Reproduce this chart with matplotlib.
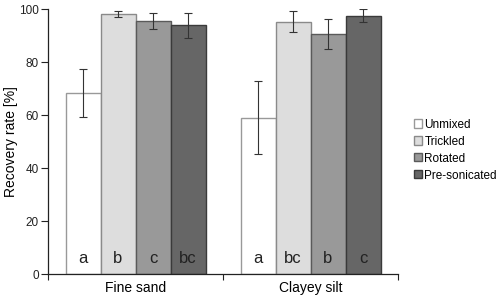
import matplotlib
matplotlib.use("Agg")
import matplotlib.pyplot as plt
import numpy as np

plt.rcParams['font.family'] = ['Liberation Sans', 'DejaVu Sans']

groups = ["Fine sand", "Clayey silt"]
series = ["Unmixed", "Trickled", "Rotated", "Pre-sonicated"]
values = {
    "Unmixed": [68.3, 59.0],
    "Trickled": [98.3, 95.3],
    "Rotated": [95.5, 90.5],
    "Pre-sonicated": [94.0, 97.6],
}
errors = {
    "Unmixed": [9.0, 13.7],
    "Trickled": [1.1, 4.0],
    "Rotated": [2.9, 5.7],
    "Pre-sonicated": [4.7, 2.3],
}
letters = {
    "Unmixed": ["a", "a"],
    "Trickled": ["b", "bc"],
    "Rotated": ["c", "b"],
    "Pre-sonicated": ["bc", "c"],
}
colors = ["#ffffff", "#dddddd", "#999999", "#666666"]
edges = ["#999999", "#8a8a8a", "#5a5a5a", "#3a3a3a"]

fig = plt.figure(figsize=(5.0, 3.03), dpi=100)
ax = fig.add_axes([0.096, 0.0957, 0.70, 0.874])

x = np.arange(len(groups))
w = 0.2
for i, s in enumerate(series):
    pos = x + (i - 1.5) * w
    ax.bar(pos, values[s], width=w, color=colors[i], edgecolor=edges[i],
           linewidth=1.0, label=s, zorder=2)
    ax.errorbar(pos, values[s], yerr=errors[s], fmt='none', ecolor='#333333',
                elinewidth=0.8, capsize=3, capthick=0.8, zorder=3)
    for p, t in zip(pos, letters[s]):
        ax.text(p, 3.2, t, ha='center', va='bottom', fontsize=12,
                color='#222222', zorder=4)

ax.set_xlim(-0.5, 1.5)
ax.set_ylim(0, 100)
ax.set_yticks([0, 20, 40, 60, 80, 100])
ax.tick_params(axis='y', labelsize=8.5, length=5, width=0.8, pad=1.5, colors='#222222')
ax.set_xticks([-0.5, 0.5, 1.5])
ax.set_xticklabels([])
ax.tick_params(axis='x', length=4, width=0.8, colors='#222222')
ax.set_xticks(x, minor=True)
ax.set_xticklabels(groups, minor=True, fontsize=10)
ax.tick_params(axis='x', which='minor', length=0, pad=5)
ax.set_ylabel("Recovery rate [%]", fontsize=10, labelpad=0.5)
for sp in ['top', 'right']:
    ax.spines[sp].set_visible(False)
for sp in ['left', 'bottom']:
    ax.spines[sp].set_linewidth(0.9)
    ax.spines[sp].set_color('#222222')

ax.legend(loc='center left', bbox_to_anchor=(1.046, 0.468), frameon=False,
          fontsize=8.5, handlelength=0.68, handleheight=0.68, handletextpad=0.2,
          labelspacing=0.42, borderpad=0, borderaxespad=0)

fig.savefig("out.png", dpi=100)
